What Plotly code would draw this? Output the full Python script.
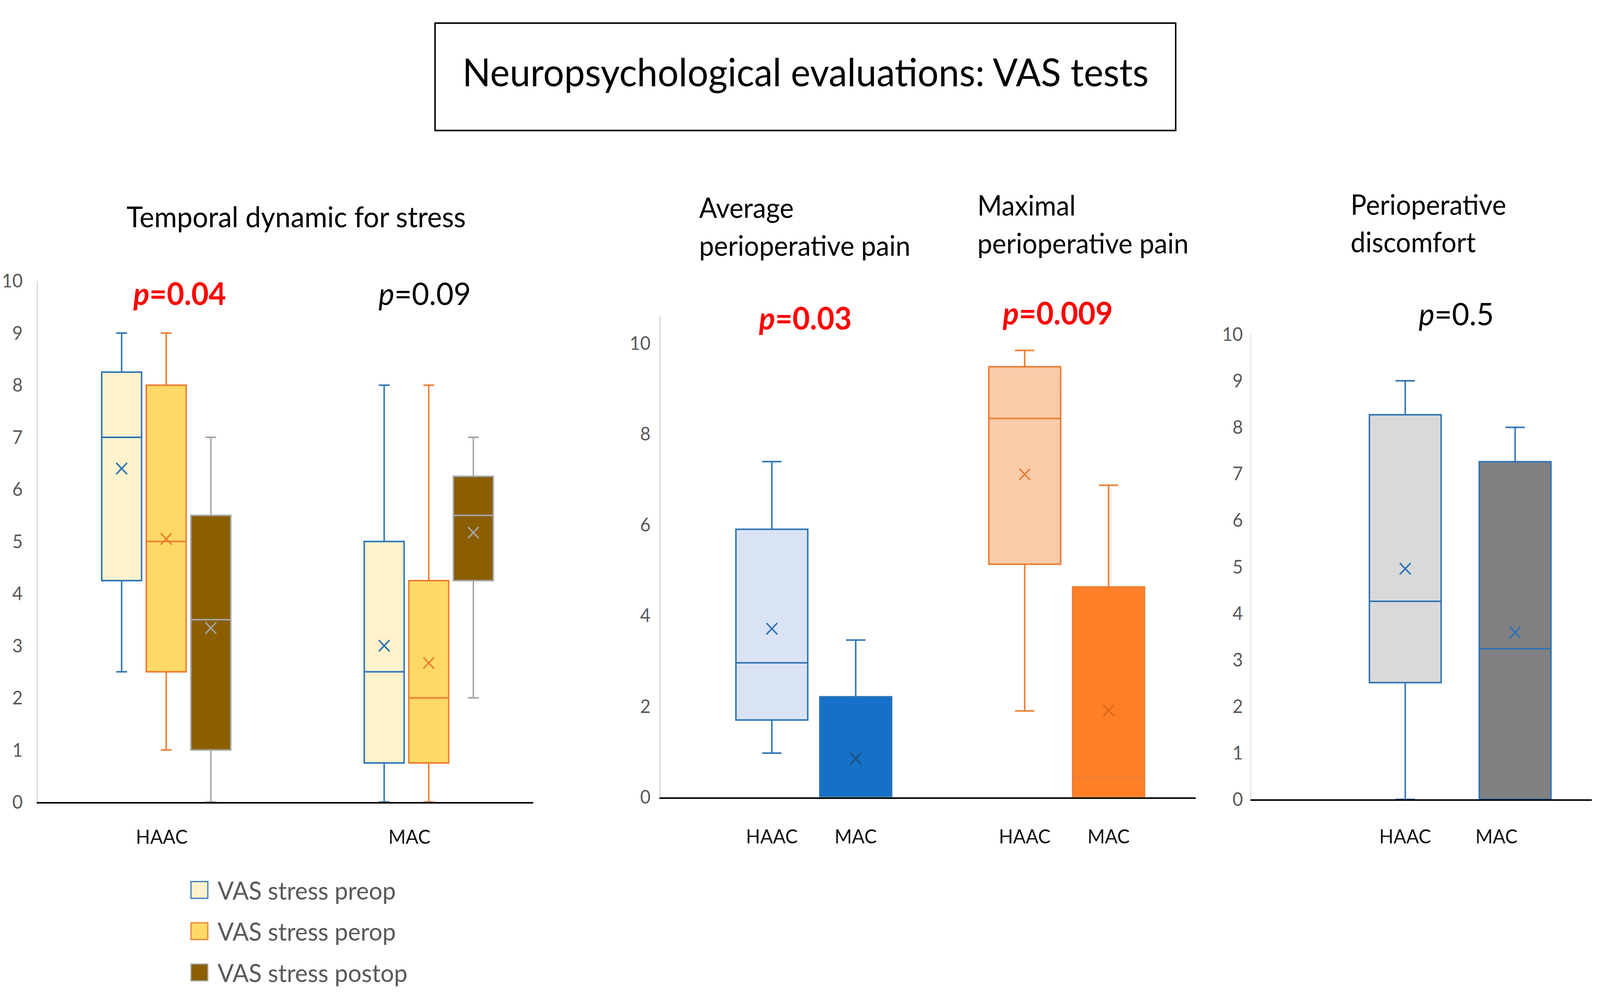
import plotly.graph_objects as go

# ---------------- data ----------------
groups = ["HAAC", "MAC"]

stress_series = ["VAS stress preop", "VAS stress perop", "VAS stress postop"]
stress_min = [[2.5, 0.0], [1.0, 0.0], [0.0, 2.0]]
stress_q1 = [[4.25, 0.75], [2.5, 0.75], [1.0, 4.25]]
stress_median = [[7.0, 2.5], [5.0, 2.0], [3.5, 5.5]]
stress_q3 = [[8.25, 5.0], [8.0, 4.25], [5.5, 6.25]]
stress_max = [[9.0, 8.0], [9.0, 8.0], [7.0, 7.0]]
stress_mean = [[6.4, 3.0], [5.05, 2.67], [3.34, 5.17]]
stress_p = ["0.04", "0.09"]
stress_sig = [True, False]

pain_measures = ["Average perioperative pain", "Maximal perioperative pain"]
pain_min = [[0.97, 0.0], [1.9, 0.0]]
pain_q1 = [[1.7, 0.0], [5.13, 0.0]]
pain_median = [[2.96, 0.0], [8.34, 0.44]]
pain_q3 = [[5.9, 2.21], [9.48, 4.63]]
pain_max = [[7.39, 3.46], [9.84, 6.87]]
pain_mean = [[3.71, 0.85], [7.11, 1.91]]
pain_p = ["0.03", "0.009"]
pain_sig = [True, True]

disc_min = [0.0, 0.0]
disc_q1 = [2.51, 0.0]
disc_median = [4.26, 3.24]
disc_q3 = [8.27, 7.26]
disc_max = [9.0, 8.0]
disc_mean = [4.96, 3.59]
disc_p = "0.5"
disc_sig = False

yticks_1 = list(range(0, 11))
yticks_2 = list(range(0, 11, 2))
yticks_3 = list(range(0, 11))

# ---------------- styles ----------------
W, H = 4273, 2579
FONT = "Lato"
BLUE = "#2E75B6"
ORANGE = "#ED7D31"
GRAY = "#A5A5A5"
TICKGRAY = "#595959"

stress_fill = ["#FFF2CC", "#FFD966", "#8B5E00"]
stress_line = [BLUE, ORANGE, GRAY]
stress_mean_col = [BLUE, ORANGE, GRAY]

pain_fill = [["#DAE3F3", "#1570C8"], ["#FBCBAA", "#FF7F27"]]
pain_line = [[BLUE, BLUE], [ORANGE, ORANGE]]
pain_mean_col = [[BLUE, "#1F4E79"], [ORANGE, "#DD6A1E"]]

disc_fill = ["#D9D9D9", "#808080"]
disc_line = [BLUE, BLUE]

# layout geometry (positions on each panel's own x scale)
p1_group_center = [0.518, 1.578]
p1_offsets = [-0.18, 0.0, 0.18]
p1_width = 0.161
p1_tickvals = [0.5, 1.5]

p2_group_center = [1.718, 4.552]
p2_offsets = [-0.47, 0.47]
p2_width = 0.805

p3_group_center = 1.84
p3_offsets = [-0.484, 0.484]
p3_width = 0.632
p3_tickvals = [1.355, 2.16]

fig = go.Figure()


def add_box(xpos, lo, q1, med, q3, hi, mean, fill, line, meancol, xa, ya, width):
    fig.add_trace(go.Box(
        x=[xpos], q1=[q1], median=[med], q3=[q3], lowerfence=[lo], upperfence=[hi],
        boxpoints=False, width=width, fillcolor=fill,
        line=dict(color=line, width=4), whiskerwidth=0.27,
        xaxis=xa, yaxis=ya, showlegend=False, hoverinfo="skip"))
    fig.add_trace(go.Scatter(
        x=[xpos], y=[mean], mode="markers",
        marker=dict(symbol="x-thin", size=29, line=dict(width=4, color=meancol)),
        xaxis=xa, yaxis=ya, showlegend=False, hoverinfo="skip"))


# panel 1
for s in range(len(stress_series)):
    for g in range(len(groups)):
        add_box(p1_group_center[g] + p1_offsets[s], stress_min[s][g], stress_q1[s][g],
                stress_median[s][g], stress_q3[s][g], stress_max[s][g], stress_mean[s][g],
                stress_fill[s], stress_line[s], stress_mean_col[s], "x", "y", p1_width)

# panel 2
p2_tickvals, p2_ticktext = [], []
for m in range(len(pain_measures)):
    for g in range(len(groups)):
        xp = p2_group_center[m] + p2_offsets[g]
        p2_tickvals.append(xp)
        p2_ticktext.append(groups[g])
        add_box(xp, pain_min[m][g], pain_q1[m][g], pain_median[m][g], pain_q3[m][g],
                pain_max[m][g], pain_mean[m][g], pain_fill[m][g], pain_line[m][g],
                pain_mean_col[m][g], "x2", "y2", p2_width)

# panel 3
for g in range(len(groups)):
    add_box(p3_group_center + p3_offsets[g], disc_min[g], disc_q1[g], disc_median[g],
            disc_q3[g], disc_max[g], disc_mean[g], disc_fill[g], disc_line[g], BLUE,
            "x3", "y3", p3_width)

xcommon = dict(showgrid=False, zeroline=False, showline=True, linecolor="black",
               linewidth=4, ticks="", tickfont=dict(family=FONT, size=50, color="#111111"),
               fixedrange=True)
ycommon = dict(showgrid=False, zeroline=False, showline=True, linecolor="#D9D9D9",
               linewidth=3, ticks="", tickfont=dict(family=FONT, size=48, color=TICKGRAY),
               fixedrange=True)

fig.update_layout(
    width=W, height=H, margin=dict(l=0, r=0, t=0, b=0),
    paper_bgcolor="white", plot_bgcolor="white", showlegend=False,
    xaxis=dict(domain=[0.0237, 0.3333], range=[0, 2], tickvals=p1_tickvals,
               ticktext=groups, anchor="y", ticklabelstandoff=43, **xcommon),
    yaxis=dict(domain=[0.1974, 0.7266], range=[0, 10], tickvals=yticks_1,
               anchor="x", ticklabelstandoff=28, **ycommon),
    xaxis2=dict(domain=[0.4128, 0.7474], range=[0, 6], tickvals=p2_tickvals,
                ticktext=p2_ticktext, anchor="y2", ticklabelstandoff=54, **xcommon),
    yaxis2=dict(domain=[0.2024, 0.6911], range=[0, 10.6], tickvals=yticks_2,
                anchor="x2", ticklabelstandoff=14, **ycommon),
    xaxis3=dict(domain=[0.7821, 0.9949], range=[0, 3], tickvals=p3_tickvals,
                ticktext=groups, anchor="y3", ticklabelstandoff=49, **xcommon),
    yaxis3=dict(domain=[0.2001, 0.6724], range=[0, 10], tickvals=yticks_3,
                anchor="x3", ticklabelstandoff=10, **ycommon),
)


def ann(text, x, y, size, color="black", xanchor="center"):
    fig.add_annotation(text=text, x=x, y=y, xref="paper", yref="paper",
                       xanchor=xanchor, yanchor="middle", showarrow=False,
                       font=dict(family=FONT, size=size, color=color), align="left")


def ptext(value, sig):
    if sig:
        return "<b><i>p</i>=" + value + "</b>"
    return "<i>p</i>=" + value


# title box
fig.add_shape(type="rect", xref="paper", yref="paper", x0=0.2719, x1=0.7348,
              y0=0.8794, y1=0.9884, line=dict(color="black", width=4))
ann("Neuropsychological evaluations: VAS tests", 0.5034, 0.9395, 99)

# panel headings
ann("Temporal dynamic for stress", 0.1852, 0.7925, 74)
ann("Average", 0.4365, 0.8015, 71, xanchor="left")
ann("perioperative pain", 0.4365, 0.7631, 71, xanchor="left")
ann("Maximal", 0.6103, 0.8038, 71, xanchor="left")
ann("perioperative pain", 0.6103, 0.7655, 71, xanchor="left")
ann("Perioperative", 0.8437, 0.8046, 71, xanchor="left")
ann("discomfort", 0.8437, 0.7666, 71, xanchor="left")

# p-values
p1_px = [0.1121, 0.2654]
for i in range(2):
    ann(ptext(stress_p[i], stress_sig[i]), p1_px[i], 0.7145, 80,
        "#FF0000" if stress_sig[i] else "black")
p2_px = [0.5032, 0.6609]
p2_py = [0.6895, 0.6945]
for i in range(2):
    ann(ptext(pain_p[i], pain_sig[i]), p2_px[i], p2_py[i], 80,
        "#FF0000" if pain_sig[i] else "black")
ann(ptext(disc_p, disc_sig), 0.9101, 0.6937, 80, "#FF0000" if disc_sig else "black")

# legend (panel 1)
leg_y = [2300, 2408, 2516]
for s in range(len(stress_series)):
    yc = 1 - leg_y[s] / H
    half = 22 / H
    fig.add_shape(type="rect", xref="paper", yref="paper",
                  x0=510 / W, x1=555 / W, y0=yc - half, y1=yc + half,
                  fillcolor=stress_fill[s], line=dict(color=stress_line[s], width=3))
    ann(stress_series[s], 579 / W, yc, 64, TICKGRAY, xanchor="left")

fit_script = """
var gd = document.getElementById('{plot_id}');
document.documentElement.style.margin = '0';
document.body.style.margin = '0';
document.body.style.overflow = 'hidden';
var sx = window.innerWidth / %d, sy = window.innerHeight / %d;
gd.style.transformOrigin = '0 0';
gd.style.transform = 'scale(' + sx + ',' + sy + ')';
""" % (W, H)

fig.write_html("out.html", post_script=fit_script, config={"displayModeBar": False})
